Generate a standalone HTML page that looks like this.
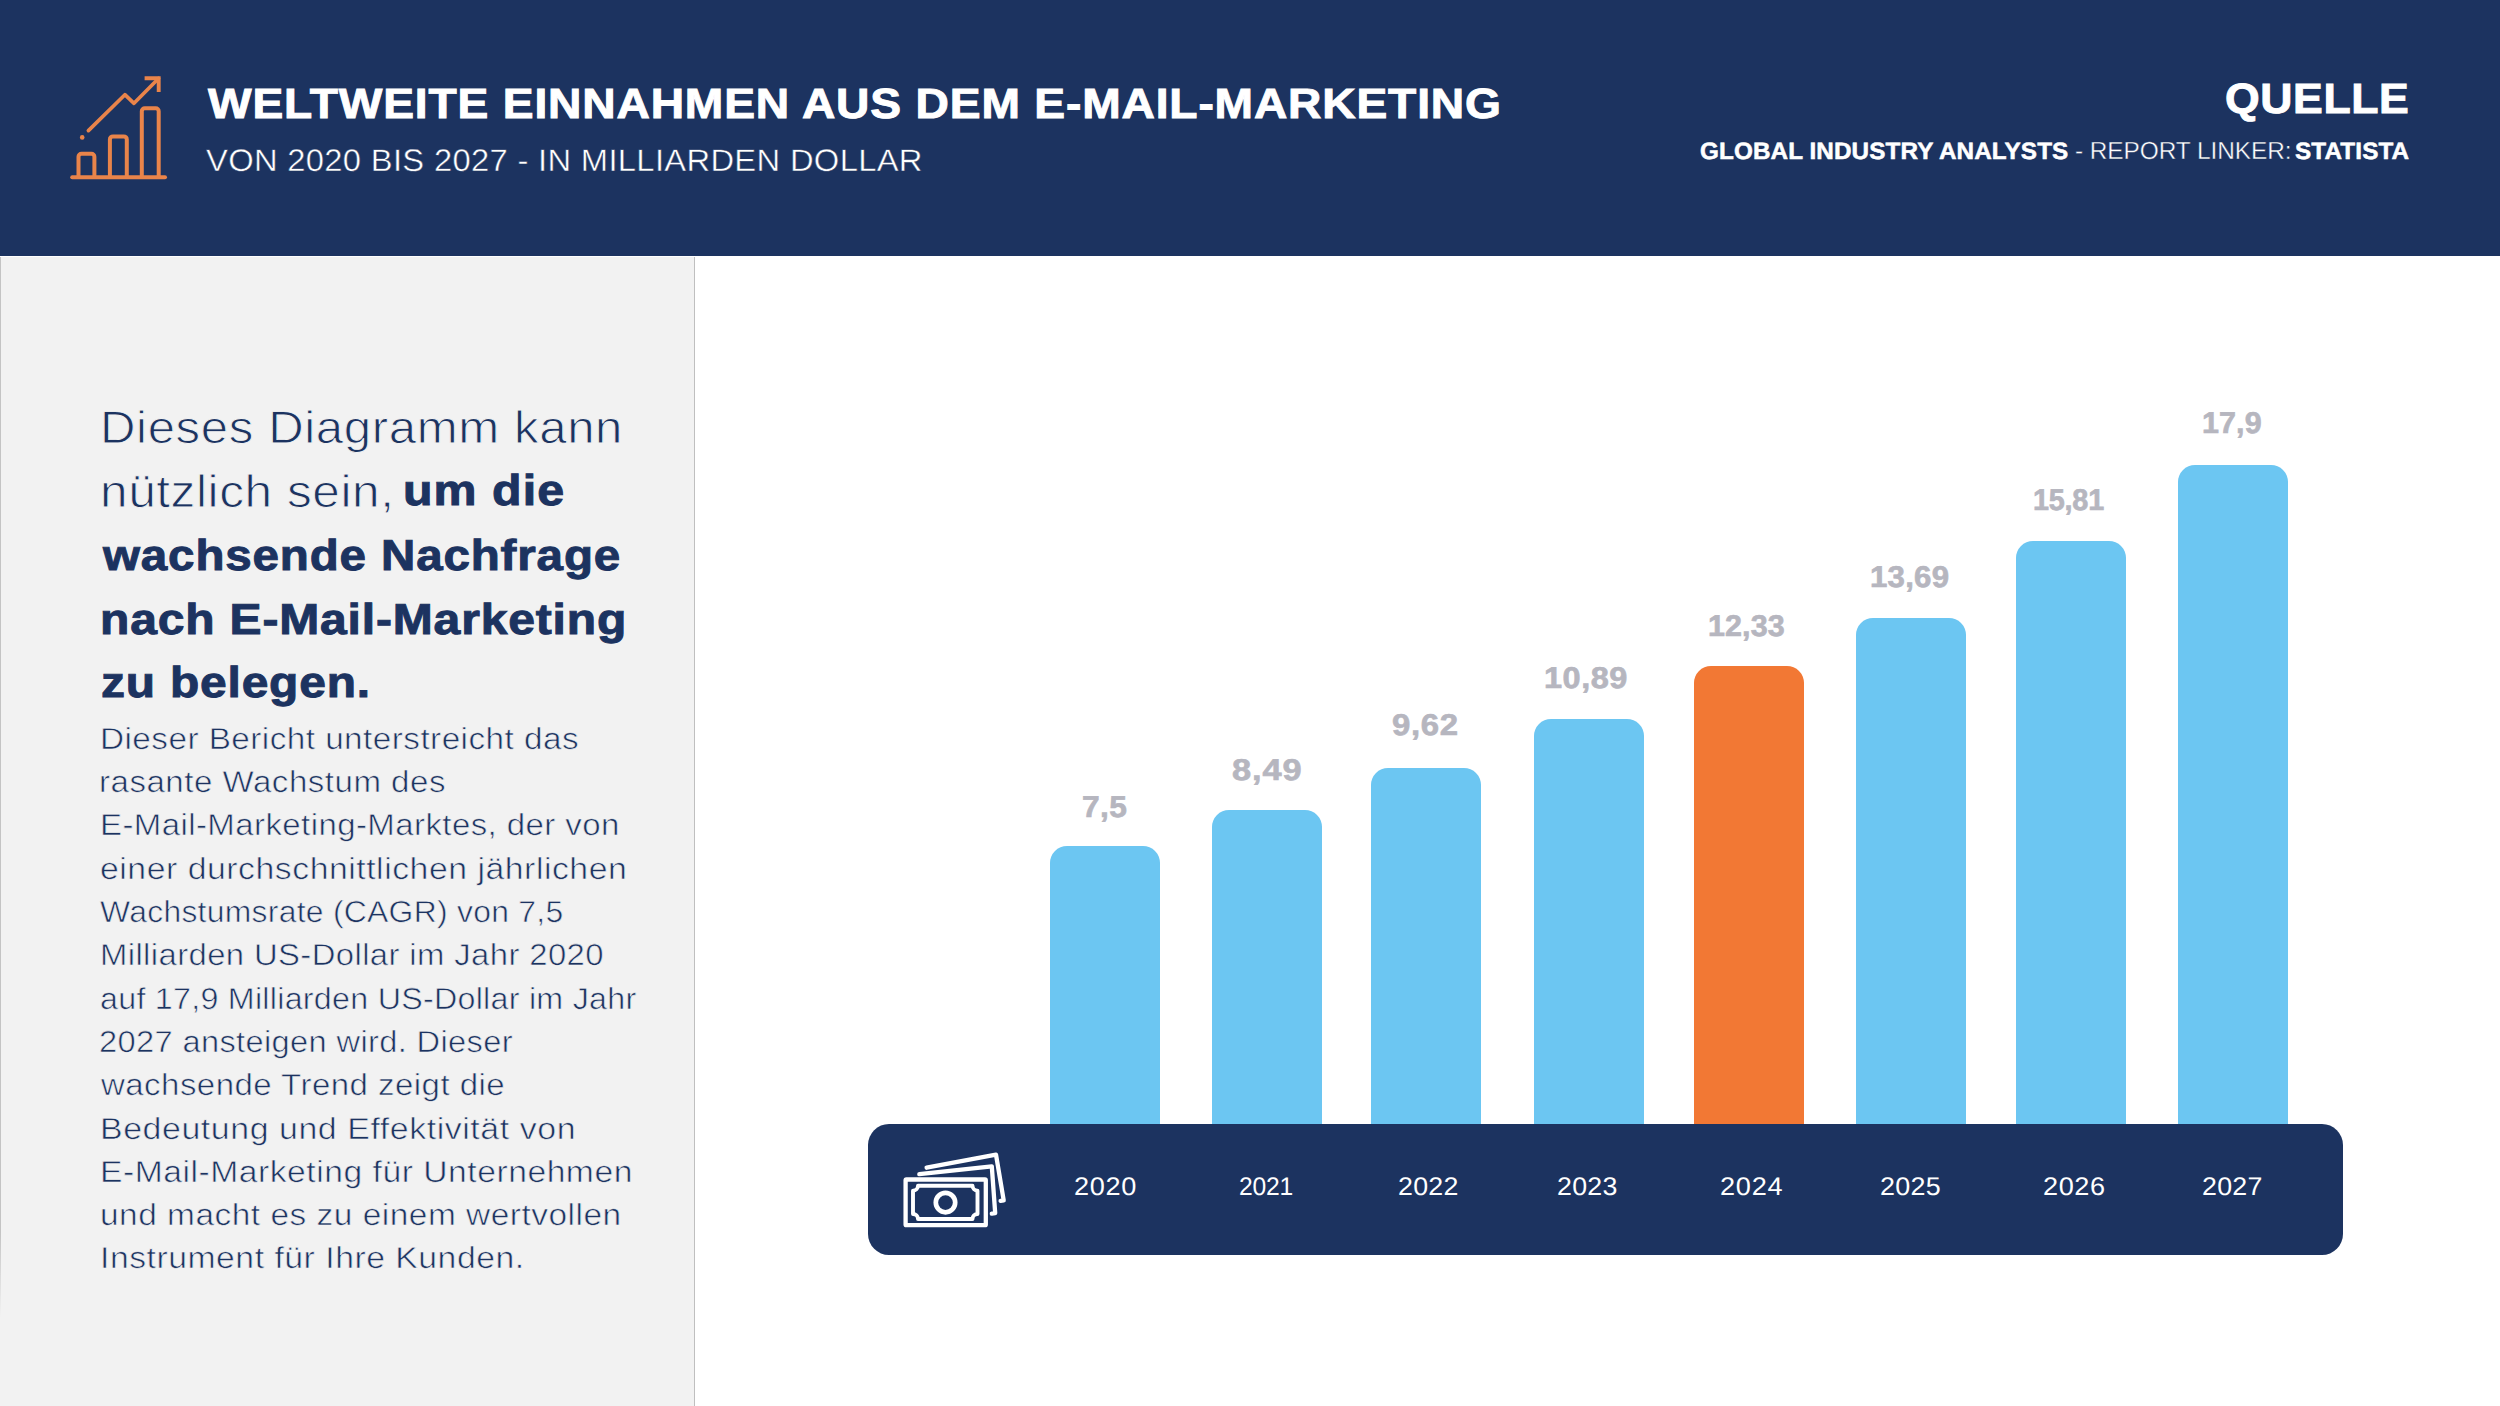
<!DOCTYPE html>
<html lang="de">
<head>
<meta charset="utf-8">
<title>Weltweite Einnahmen aus dem E-Mail-Marketing</title>
<style>
*{margin:0;padding:0;box-sizing:border-box}
html,body{width:2500px;height:1406px;overflow:hidden;background:#fff}
body{font-family:"Liberation Sans",Arial,Helvetica,sans-serif;position:relative}
#page{position:absolute;left:0;top:0;width:2500px;height:1406px;overflow:hidden;background:#fff}
.t{position:absolute;white-space:nowrap;line-height:1;font-weight:400;transform-origin:0 0;color:#fff;text-rendering:geometricPrecision}
.b{font-weight:700;-webkit-text-stroke:0.022em currentColor}
header{position:absolute;left:0;top:0;width:2500px;height:256px;background:#1c3360}
aside{position:absolute;left:0;top:257px;width:695px;height:1149px;background:#f2f2f2;border-right:1px solid #bfbfbf}
aside:before{content:"";position:absolute;left:0;top:0;width:1px;height:1060px;background:linear-gradient(#c4c4c4 0,#c4c4c4 92%,#f2f2f2 100%)}
aside .t{color:#1c3360}
aside .l{-webkit-text-stroke-color:#f2f2f2}
header .l{-webkit-text-stroke-color:#1c3360}
.bar{position:absolute;background:#6cc6f2;border-radius:17px 17px 0 0}
.bar.o{background:#f27834}
.v{color:#b6b6bf}
#axis{position:absolute;left:868.1px;top:1124.1px;width:1474.7px;height:130.7px;background:#1c3360;border-radius:21px}
svg{position:absolute;overflow:visible}
</style>
</head>
<body>
<div id="page">
<header>
<svg style="left:60px;top:66px" width="120" height="120" viewBox="60 66 120 120" fill="none" stroke="#e9844a" stroke-width="4" stroke-linecap="round" stroke-linejoin="round">
<path d="M72.2 177.3H165"/>
<path d="M78.5 177V156.8a3 3 0 0 1 3-3h9.9a3 3 0 0 1 3 3V177"/>
<path d="M109.9 177V139.4a3 3 0 0 1 3-3h10.9a3 3 0 0 1 3 3V177"/>
<path d="M141.8 177V111.2a3 3 0 0 1 3-3h10.9a3 3 0 0 1 3 3V177"/>
<path d="M88.4 130.6L124.9 94.7L134 103.3L158.5 78.5" stroke-width="3.7"/>
<path d="M144.6 78.3H158.7V92" stroke-width="3.9" stroke-linecap="butt" stroke-linejoin="miter"/>
<circle cx="82.2" cy="137.4" r="2.3" fill="#e9844a" stroke="none"/>
</svg>
<div class="t b" style="left:207.9px;top:82.8px;font-size:42.3px;letter-spacing:0.76px;transform:scaleX(1.092);">WELTWEITE EINNAHMEN AUS DEM E-MAIL-MARKETING</div>
<div class="t l" style="left:206.2px;top:145.4px;font-size:31.0px;letter-spacing:0.3px;transform:scaleX(1.056);-webkit-text-stroke-width:0.45px;">VON 2020 BIS 2027 - IN MILLIARDEN DOLLAR</div>
<div class="t b" style="left:2224.9px;top:78.1px;font-size:42.3px;letter-spacing:0.56px;transform:scaleX(1.054);">QUELLE</div>
<div class="t b" style="left:1700.0px;top:140.9px;font-size:23.7px;letter-spacing:0.11px;transform:scaleX(1.024);">GLOBAL INDUSTRY ANALYSTS</div>
<div class="t l" style="left:2074.6px;top:140.0px;font-size:24.8px;letter-spacing:-0.07px;transform:scaleX(0.985);-webkit-text-stroke-width:0.4px;">- REPORT LINKER:</div>
<div class="t b" style="left:2295.2px;top:140.9px;font-size:23.7px;letter-spacing:0.13px;transform:scaleX(1.024);">STATISTA</div>
</header>
<aside>
<div class="t l" style="left:100.0px;top:148.4px;font-size:45.6px;letter-spacing:0.59px;transform:scaleX(1.077);-webkit-text-stroke-width:0.9px;">Dieses Diagramm kann</div>
<div class="t l" style="left:100.0px;top:212.4px;font-size:45.6px;letter-spacing:0.53px;transform:scaleX(1.087);-webkit-text-stroke-width:0.9px;">nützlich sein,</div>
<div class="t b" style="left:403.0px;top:213.3px;font-size:43.3px;letter-spacing:0.96px;transform:scaleX(1.116);">um die</div>
<div class="t b" style="left:102.9px;top:277.5px;font-size:43.3px;letter-spacing:0.77px;transform:scaleX(1.098);">wachsende Nachfrage</div>
<div class="t b" style="left:100.4px;top:341.5px;font-size:43.3px;letter-spacing:0.75px;transform:scaleX(1.109);">nach E-Mail-Marketing</div>
<div class="t b" style="left:101.0px;top:405.3px;font-size:43.3px;letter-spacing:0.75px;transform:scaleX(1.106);">zu belegen.</div>
<div class="t l" style="left:99.7px;top:467.8px;font-size:30.3px;letter-spacing:0.4px;transform:scaleX(1.1);-webkit-text-stroke-width:0.6px;">Dieser Bericht unterstreicht das</div>
<div class="t l" style="left:99.3px;top:511.1px;font-size:30.3px;letter-spacing:0.45px;transform:scaleX(1.092);-webkit-text-stroke-width:0.6px;">rasante Wachstum des</div>
<div class="t l" style="left:99.9px;top:554.4px;font-size:30.3px;letter-spacing:0.38px;transform:scaleX(1.089);-webkit-text-stroke-width:0.6px;">E-Mail-Marketing-Marktes, der von</div>
<div class="t l" style="left:99.6px;top:597.7px;font-size:30.3px;letter-spacing:0.46px;transform:scaleX(1.116);-webkit-text-stroke-width:0.6px;">einer durchschnittlichen jährlichen</div>
<div class="t l" style="left:99.9px;top:641.0px;font-size:30.3px;letter-spacing:0.26px;transform:scaleX(1.052);-webkit-text-stroke-width:0.6px;">Wachstumsrate (CAGR) von 7,5</div>
<div class="t l" style="left:99.9px;top:684.3px;font-size:30.3px;letter-spacing:0.36px;transform:scaleX(1.084);-webkit-text-stroke-width:0.6px;">Milliarden US-Dollar im Jahr 2020</div>
<div class="t l" style="left:99.7px;top:727.6px;font-size:30.3px;letter-spacing:0.26px;transform:scaleX(1.063);-webkit-text-stroke-width:0.6px;">auf 17,9 Milliarden US-Dollar im Jahr</div>
<div class="t l" style="left:99.0px;top:770.9px;font-size:30.3px;letter-spacing:0.34px;transform:scaleX(1.076);-webkit-text-stroke-width:0.6px;">2027 ansteigen wird. Dieser</div>
<div class="t l" style="left:100.7px;top:814.2px;font-size:30.3px;letter-spacing:0.41px;transform:scaleX(1.09);-webkit-text-stroke-width:0.6px;">wachsende Trend zeigt die</div>
<div class="t l" style="left:99.9px;top:857.5px;font-size:30.3px;letter-spacing:0.5px;transform:scaleX(1.119);-webkit-text-stroke-width:0.6px;">Bedeutung und Effektivität von</div>
<div class="t l" style="left:100.0px;top:900.8px;font-size:30.3px;letter-spacing:0.48px;transform:scaleX(1.11);-webkit-text-stroke-width:0.6px;">E-Mail-Marketing für Unternehmen</div>
<div class="t l" style="left:100.4px;top:944.1px;font-size:30.3px;letter-spacing:0.45px;transform:scaleX(1.104);-webkit-text-stroke-width:0.6px;">und macht es zu einem wertvollen</div>
<div class="t l" style="left:99.8px;top:987.4px;font-size:30.3px;letter-spacing:0.47px;transform:scaleX(1.113);-webkit-text-stroke-width:0.6px;">Instrument für Ihre Kunden.</div>
</aside>
<main>
<div class="bar" style="left:1050.1px;top:846.4px;width:109.7px;height:283.6px"></div>
<div class="bar" style="left:1211.8px;top:810.4px;width:110.0px;height:319.6px"></div>
<div class="bar" style="left:1371.0px;top:768.1px;width:109.8px;height:361.9px"></div>
<div class="bar" style="left:1533.8px;top:719.2px;width:110.2px;height:410.8px"></div>
<div class="bar o" style="left:1694.0px;top:666.0px;width:109.8px;height:464.0px"></div>
<div class="bar" style="left:1855.7px;top:617.5px;width:110.1px;height:512.5px"></div>
<div class="bar" style="left:2015.6px;top:541.3px;width:110.4px;height:588.7px"></div>
<div class="bar" style="left:2178.0px;top:464.8px;width:110.0px;height:665.2px"></div>

<div class="t b v" style="left:1082.1px;top:792.9px;font-size:30.0px;letter-spacing:0.36px;transform:scaleX(1.058);">7,5</div>
<div class="t b v" style="left:1231.5px;top:755.7px;font-size:30.0px;letter-spacing:0.81px;transform:scaleX(1.145);">8,49</div>
<div class="t b v" style="left:1392.1px;top:711.0px;font-size:30.0px;letter-spacing:0.57px;transform:scaleX(1.098);">9,62</div>
<div class="t b v" style="left:1544.2px;top:664.4px;font-size:30.0px;letter-spacing:0.47px;transform:scaleX(1.083);">10,89</div>
<div class="t b v" style="left:1707.5px;top:612.2px;font-size:30.0px;letter-spacing:0.09px;transform:scaleX(1.016);">12,33</div>
<div class="t b v" style="left:1870.1px;top:562.6px;font-size:30.0px;letter-spacing:0.24px;transform:scaleX(1.04);">13,69</div>
<div class="t b v" style="left:2032.6px;top:485.9px;font-size:30.0px;letter-spacing:-0.24px;transform:scaleX(0.96);">15,81</div>
<div class="t b v" style="left:2202.3px;top:408.8px;font-size:30.0px;letter-spacing:0.09px;transform:scaleX(1.016);">17,9</div>
<div id="axis"></div>
<svg style="left:890px;top:1140px" width="130" height="100" viewBox="890 1140 130 100" fill="none" stroke="#fff" stroke-width="4.3" stroke-linecap="round" stroke-linejoin="round">
<rect x="905.6" y="1179.5" width="80.2" height="45.7" rx="0.8"/>
<path d="M918 1185.7H972.5a5 5 0 0 0 5 5V1214a5 5 0 0 0 -5 5H918a5 5 0 0 0 -5 -5V1190.7a5 5 0 0 0 5 -5Z" stroke-width="3.9"/>
<circle cx="945.5" cy="1202.6" r="9.7" stroke-width="4.7"/>
<path d="M919.3 1174.2L991.8 1166.3L995.2 1213.2L991.8 1213.7"/>
<path d="M926.6 1167.7L996 1154.7L1003.7 1200.4L1000.6 1200.9"/>
</svg>
<div class="t y" style="left:1074.1px;top:1174.7px;font-size:25.6px;letter-spacing:0.59px;transform:scaleX(1.06);">2020</div>
<div class="t y" style="left:1238.7px;top:1174.7px;font-size:25.6px;letter-spacing:-0.23px;transform:scaleX(0.964);">2021</div>
<div class="t y" style="left:1397.9px;top:1174.7px;font-size:25.6px;letter-spacing:0.26px;transform:scaleX(1.046);">2022</div>
<div class="t y" style="left:1557.2px;top:1174.7px;font-size:25.6px;letter-spacing:0.26px;transform:scaleX(1.044);">2023</div>
<div class="t y" style="left:1720.1px;top:1174.7px;font-size:25.6px;letter-spacing:0.71px;transform:scaleX(1.06);">2024</div>
<div class="t y" style="left:1880.4px;top:1174.7px;font-size:25.6px;letter-spacing:0.3px;transform:scaleX(1.05);">2025</div>
<div class="t y" style="left:2043.3px;top:1174.7px;font-size:25.6px;letter-spacing:0.52px;transform:scaleX(1.06);">2026</div>
<div class="t y" style="left:2202.4px;top:1174.7px;font-size:25.6px;letter-spacing:0.26px;transform:scaleX(1.046);">2027</div>
</main>
</div>
</body>
</html>
